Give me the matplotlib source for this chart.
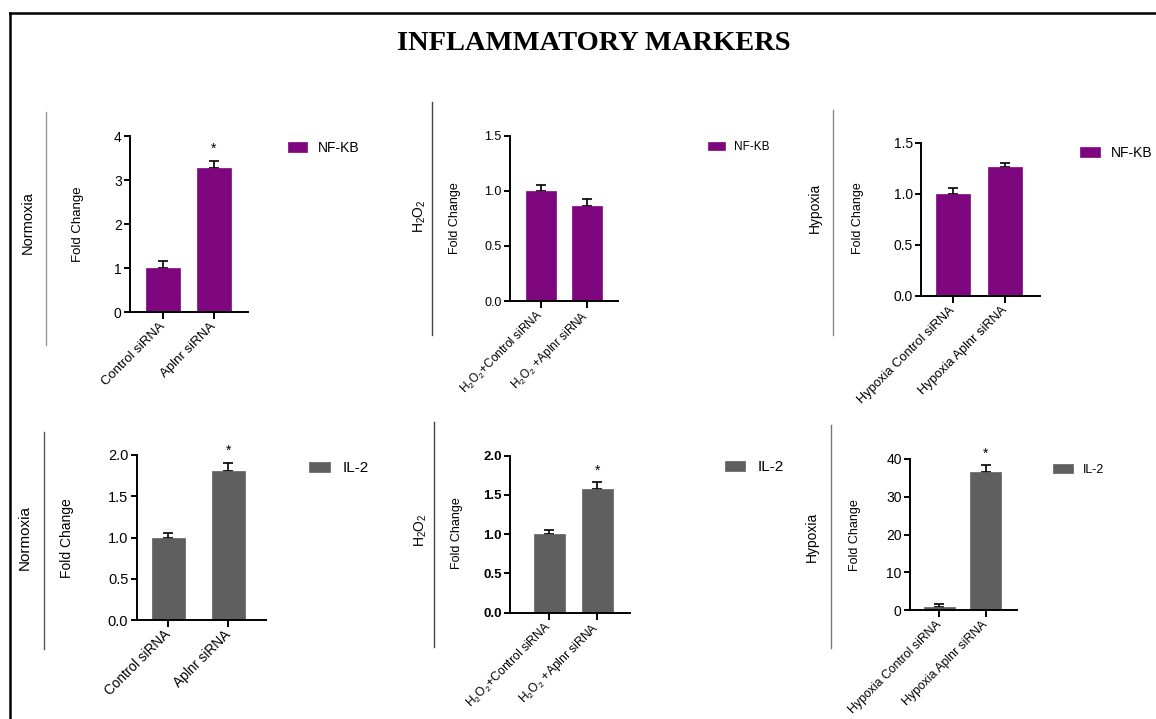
import matplotlib
matplotlib.use("Agg")
import matplotlib.pyplot as plt
from matplotlib.lines import Line2D
from matplotlib.ticker import FixedLocator, FixedFormatter

plt.rcParams['font.family'] = ['Liberation Sans', 'DejaVu Sans']
plt.rcParams['mathtext.default'] = 'regular'

# ---------------- data ----------------
conditions = ['Normoxia', 'H$_2$O$_2$', 'Hypoxia']
normoxia_labels = ['Control siRNA', 'Aplnr siRNA']
h2o2_labels = ['H$_2$O$_2$+Control siRNA', 'H$_2$O$_2$ +Aplnr siRNA']
hypoxia_labels = ['Hypoxia Control siRNA', 'Hypoxia Aplnr siRNA']
group_labels = [normoxia_labels, h2o2_labels, hypoxia_labels]

markers = ['NF-KB', 'IL-2']

nfkb_means = [[1.0, 3.27], [1.0, 0.865], [1.0, 1.26]]
nfkb_errs = [[0.15, 0.17], [0.05, 0.065], [0.06, 0.04]]
nfkb_sig = [[False, True], [False, False], [False, False]]
nfkb_yticks = [[0, 1, 2, 3, 4], [0.0, 0.5, 1.0, 1.5], [0.0, 0.5, 1.0, 1.5]]
nfkb_yticklabels = [['0', '1', '2', '3', '4'], ['0.0', '0.5', '1.0', '1.5'],
                    ['0.0', '0.5', '1.0', '1.5']]

il2_means = [[1.0, 1.81], [1.0, 1.57], [1.0, 36.6]]
il2_errs = [[0.06, 0.09], [0.05, 0.09], [0.6, 1.7]]
il2_sig = [[False, True], [False, True], [False, True]]
il2_yticks = [[0.0, 0.5, 1.0, 1.5, 2.0], [0.0, 0.5, 1.0, 1.5, 2.0], [0, 10, 20, 30, 40]]
il2_yticklabels = [['0.0', '0.5', '1.0', '1.5', '2.0'], ['0.0', '0.5', '1.0', '1.5', '2.0'],
                   ['0', '10', '20', '30', '40']]

marker_colors = ['#7e067e', '#5f5f5f']

# ---------------- layout (pixels) ----------------
W, H = 1156, 719
fig = plt.figure(figsize=(W / 100, H / 100), dpi=100)
fig.patch.set_facecolor('white')


def fx(px):
    return px / W


def fy(py):
    return 1 - py / H


# (left, right, top, zero) pixel box, xlim, bar width
boxes = [
    [(130, 248, 136, 312), (-0.647, 1.667), 0.65],
    [(510, 618, 135.7, 301), (-0.68, 1.68), 0.66],
    [(921, 1040, 142.7, 295.7), (-0.625, 1.68), 0.65],
    [(136.7, 265.7, 455, 620), (-0.527, 1.62), 0.55],
    [(510, 630, 455.7, 612.7), (-0.82, 1.68), 0.66],
    [(910, 1017.3, 459, 610.3), (-0.63, 1.68), 0.67],
]
ytick_fs = [10, 9, 10, 10.5, 9.5, 10]
ytick_bold = [False, False, False, False, True, False]
xtick_fs = [9.5, 8.5, 9.3, 9.8, 8.7, 8.8]
ylab_fs = [9.5, 9, 9, 10, 9, 9]
ylab_pos = [(84, 224), (461, 218), (864, 218), (74, 538), (463, 533), (861, 535)]
cond_pos = [(28, 223), (420, 216), (815, 208), (25, 537), (421, 530), (812, 537)]
cond_fs = [10.5, 10, 10, 11, 10, 10]
sep = [(46, 112, 345, '#999999'), (431.7, 102, 335, '#444444'), (832.7, 110, 335, '#888888'),
       (44.3, 432, 649, '#555555'), (434.3, 422, 647, '#444444'), (830.7, 425, 648, '#777777')]
leg_pos = [(288, 148), (708, 147), (1080, 153), (309, 468), (725, 467), (1053, 470)]
leg_fs = [10, 8.5, 10, 11, 11, 9]
leg_w = [19, 17, 20, 21, 20, 20]

for i in range(6):
    row, col = divmod(i, 3)
    if row == 0:
        means, errs, sig = nfkb_means[col], nfkb_errs[col], nfkb_sig[col]
        yt, ytl = nfkb_yticks[col], nfkb_yticklabels[col]
    else:
        means, errs, sig = il2_means[col], il2_errs[col], il2_sig[col]
        yt, ytl = il2_yticks[col], il2_yticklabels[col]
    color = marker_colors[row]
    (l, r, t, z), xl, bw = boxes[i]
    ax = fig.add_axes([fx(l), fy(z), (r - l) / W, (z - t) / H])
    xs = list(range(len(means)))
    bars = ax.bar(xs, means, width=bw, color=color, edgecolor=color, linewidth=0.5,
                  label=markers[row], zorder=2)
    ax.errorbar(xs, means, yerr=[[0] * len(errs), errs], fmt='none', ecolor='black',
                elinewidth=1.2, capsize=3.5, capthick=1.2, zorder=1)
    for x, m, e, s in zip(xs, means, errs, sig):
        if s:
            ax.annotate('*', xy=(x, m + e), xytext=(0, 8), textcoords='offset pixels',
                        ha='center', va='baseline', fontsize=10)
    ax.set_xlim(*xl)
    ax.set_ylim(yt[0], yt[-1])
    ax.yaxis.set_major_locator(FixedLocator(yt))
    ax.yaxis.set_major_formatter(FixedFormatter(ytl))
    ax.set_xticks(xs)
    ax.set_xticklabels(group_labels[col], rotation=45, ha='right', va='center',
                       rotation_mode='anchor', fontsize=xtick_fs[i])
    for lab in ax.get_yticklabels():
        lab.set_fontsize(ytick_fs[i])
        if ytick_bold[i]:
            lab.set_fontweight('bold')
    for s in ['top', 'right']:
        ax.spines[s].set_visible(False)
    for s in ['left', 'bottom']:
        ax.spines[s].set_linewidth(1.4)
    ax.tick_params(axis='both', direction='out', length=4, width=1.4, pad=2)
    ax.tick_params(axis='x', length=5, pad=4)
    ax.set_facecolor('none')
    ax.set_ylabel('Fold Change', fontsize=ylab_fs[i])
    ax.yaxis.set_label_coords(fx(ylab_pos[i][0]), fy(ylab_pos[i][1]), transform=fig.transFigure)
    fig.text(fx(cond_pos[i][0]), fy(cond_pos[i][1]), conditions[col], rotation=90,
             ha='center', va='center', fontsize=cond_fs[i])
    sx, sy0, sy1, sc = sep[i]
    fig.add_artist(Line2D([fx(sx), fx(sx)], [fy(sy0), fy(sy1)], color=sc, lw=1.0,
                          transform=fig.transFigure))
    fs_px = leg_fs[i] * 100 / 72
    ax.legend(handles=[bars], labels=[markers[row]], loc='center left',
              bbox_to_anchor=(fx(leg_pos[i][0]), fy(leg_pos[i][1])),
              bbox_transform=fig.transFigure, frameon=False, fontsize=leg_fs[i],
              handlelength=leg_w[i] / fs_px, handleheight=0.65, handletextpad=0.8,
              borderpad=0, borderaxespad=0)

# title
fig.text(fx(594), fy(43), 'INFLAMMATORY MARKERS', ha='center', va='center',
         fontsize=20.5, fontweight='bold', family='Liberation Serif')

# outer frame (left and top edges)
fig.add_artist(Line2D([fx(9.5), fx(9.5)], [fy(12.5), 0], color='black', lw=1.8,
                      transform=fig.transFigure))
fig.add_artist(Line2D([fx(9.5), 1], [fy(12.5), fy(12.5)], color='black', lw=1.8,
                      transform=fig.transFigure))

fig.savefig('out.png', dpi=100, facecolor='white')
